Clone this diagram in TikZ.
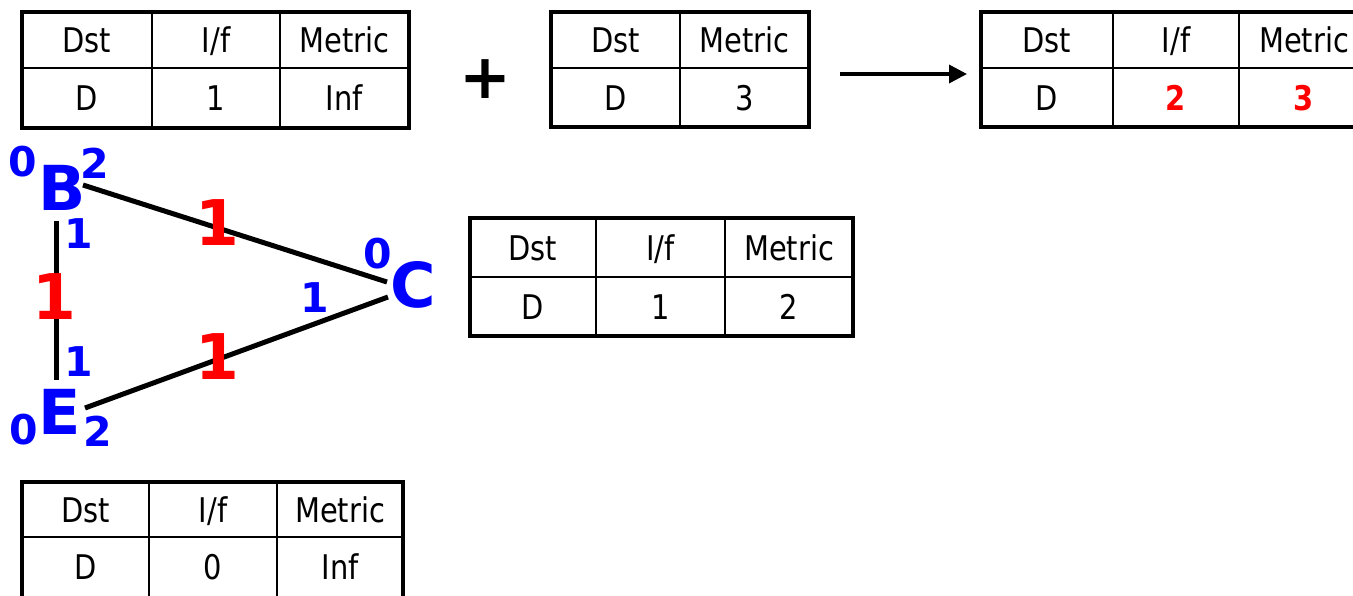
\documentclass[tikz,border=0pt]{standalone}
\usepackage{fontspec}
\setmainfont{DejaVu Sans}
\newfontfamily\tabfont{DejaVu Sans}[FakeStretch=0.85]
\usetikzlibrary{arrows.meta}
\begin{document}
\begin{tikzpicture}[x=1pt,y=-1pt,
  outer/.style={line width=4.5pt},
  inner/.style={line width=2pt},
  cell/.style={inner sep=0pt, font=\tabfont\fontsize{34}{34}\selectfont, text height=25pt, text depth=0pt},
  redcell/.style={cell, text=red, font=\tabfont\bfseries\fontsize{34}{34}\selectfont},
  vert/.style={inner sep=0pt, text=blue, font=\bfseries\fontsize{62}{62}\selectfont},
  port/.style={inner sep=0pt, text=blue, font=\bfseries\fontsize{41}{41}\selectfont},
  cost/.style={inner sep=0pt, text=red, font=\bfseries\fontsize{63}{63}\selectfont},
  edge/.style={line width=5pt},
  plus/.style={inner sep=0pt, font=\bfseries\fontsize{62}{62}\selectfont},
  arr/.style={line width=3.5pt, -{Triangle[length=18pt,width=18pt]}}
]
\useasboundingbox (0,0) rectangle (1353,595);
\fill[white] (0,0) rectangle (1353,595);
\begin{scope}
\clip (0,0) rectangle (1353,595);
% table 1
\draw[inner] (152,12) -- (152,128) (280,12) -- (280,128) (22,68) -- (409,68);
\draw[outer] (22,12) rectangle (409,128);
% table 2
\draw[inner] (680,12) -- (680,127) (551,68) -- (809,68);
\draw[outer] (551,12) rectangle (809,127);
% table 3
\draw[inner] (1113,12) -- (1113,127) (1239,12) -- (1239,127) (981,68) -- (1368,68);
\draw[outer] (981,12) rectangle (1368,127);
% table 4
\draw[inner] (596,218) -- (596,336) (725,218) -- (725,336) (470,277) -- (853,277);
\draw[outer] (470,218) rectangle (853,336);
% table 5
\draw[inner] (149,482) -- (149,600) (277,482) -- (277,600) (22,537) -- (403,537);
\draw[outer] (22,482) rectangle (403,600);
\end{scope}
% table texts
\node[cell] (t1a) at (87,40) {Dst};
\node[cell] (t1b) at (216,40) {I/f};
\node[cell] (t1c) at (344.5,40) {Metric};
\node[cell] (t1d) at (87,98) {D};
\node[cell] (t1e) at (216,98) {1};
\node[cell] (t1f) at (344.5,98) {Inf};
\node[cell] (t2a) at (615.5,40) {Dst};
\node[cell] (t2b) at (744.5,40) {Metric};
\node[cell] (t2c) at (615.5,97.5) {D};
\node[cell] (t2d) at (744.5,97.5) {3};
\node[cell] (t3a) at (1047,40) {Dst};
\node[cell] (t3b) at (1176,40) {I/f};
\node[cell] (t3c) at (1304,40) {Metric};
\node[cell] (t3d) at (1047,97.5) {D};
\node[redcell] (t3e) at (1176,97.5) {2};
\node[redcell] (t3f) at (1304,97.5) {3};
\node[cell] (t4a) at (533,247.5) {Dst};
\node[cell] (t4b) at (660.5,247.5) {I/f};
\node[cell] (t4c) at (789,247.5) {Metric};
\node[cell] (t4d) at (533,306.5) {D};
\node[cell] (t4e) at (660.5,306.5) {1};
\node[cell] (t4f) at (789,306.5) {2};
\node[cell] (t5a) at (85.5,509.5) {Dst};
\node[cell] (t5b) at (213,509.5) {I/f};
\node[cell] (t5c) at (340,509.5) {Metric};
\node[cell] (t5d) at (85.5,566.5) {D};
\node[cell] (t5e) at (213,566.5) {0};
\node[cell] (t5f) at (340,566.5) {Inf};
% plus and arrow
\node[plus] (pl) at (485,79) {+};
\coordinate (as) at (840,74);
\coordinate (ae) at (967,74);
\draw[arr] (as) -- (ae);
% graph
\node[vert] (B) at (62,188) {B};
\node[vert] (C) at (413,285) {C};
\node[vert] (E) at (60,412) {E};
\draw[edge] ([shift={(21,-3)}]B.center) -- ([shift={(-26,-3)}]C.center);
\draw[edge] ([shift={(25,-4)}]E.center) -- ([shift={(-25,12)}]C.center);
\draw[edge] ([shift={(-6,33)}]B.center) -- ([shift={(-4,-32)}]E.center);
\node[port] (pB0) at (23,162) {0};
\node[port] (pB2) at (95,163) {2};
\node[port] (pB1) at (79,234) {1};
\node[port] (pE1) at (79,362) {1};
\node[port] (pE0) at (24,430) {0};
\node[port] (pE2) at (98,431) {2};
\node[port] (pC0) at (378,254) {0};
\node[port] (pC1) at (315,298) {1};
\node[cost] (cBC) at (217,223) {1};
\node[cost] (cEC) at (217,357) {1};
\node[cost] (cBE) at (54,297) {1};
\end{tikzpicture}
\end{document}
